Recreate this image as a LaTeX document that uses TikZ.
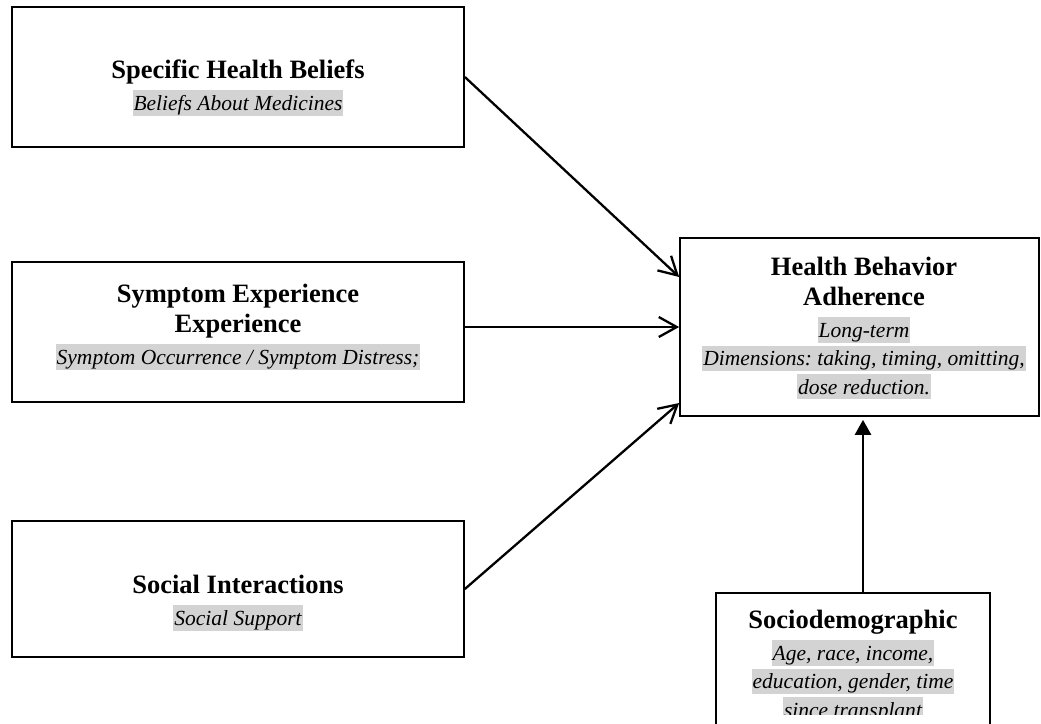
\documentclass[tikz,border=0pt]{standalone}
\usepackage{fontspec}
\setmainfont{Liberation Serif}
\usetikzlibrary{arrows.meta}
\definecolor{hlgray}{HTML}{D3D3D3}
\setlength{\fboxsep}{1pt}
\frenchspacing
\newcommand{\tightlines}{\lineskip=0pt\lineskiplimit=0pt}
\newcommand{\boxtitle}[1]{{\fontsize{26.5}{0}\selectfont\bfseries\rule[-11pt]{0pt}{30pt}#1}}
\newcommand{\subnote}[1]{{\fontsize{21.5}{0}\selectfont\itshape\rule[-7.5pt]{0pt}{28.5pt}\colorbox{hlgray}{\rule[-4pt]{0pt}{23pt}#1}}}
\begin{document}
\begin{tikzpicture}[
        x=1pt,
        y=-1pt,
        box/.style={draw=black, line width=1.7pt, rectangle, inner sep=0pt},
        txt/.style={anchor=north, align=center, inner sep=0pt,
            font={\fontsize{21.5}{0}\selectfont\tightlines}},
        link/.style={-{Straight Barb[length=18pt,width=20pt]}, line width=2.3pt}]
\useasboundingbox (0,0) rectangle (1041,723);
\clip (0,0) rectangle (1041,723);
% boxes
\node[box, minimum width=452pt, minimum height=140pt] (beliefs) at (238,77) {};
\node[box, minimum width=452pt, minimum height=140pt] (symptom) at (238,332) {};
\node[box, minimum width=452pt, minimum height=136pt] (social) at (238,589) {};
\node[box, minimum width=359pt, minimum height=178pt] (adherence) at (859.5,327) {};
\node[box, minimum width=274pt, minimum height=150pt] (socio) at (853,668) {};
% texts
\node[txt] (beliefstxt) at (238,59) {\boxtitle{Specific Health Beliefs}\\
    \subnote{Beliefs About Medicines}};
\node[txt] (symptomtxt) at (238,283) {\boxtitle{Symptom Experience}\\
    \boxtitle{Experience}\\
    \subnote{Symptom Occurrence / Symptom Distress;}};
\node[txt] (socialtxt) at (238,574) {\boxtitle{Social Interactions}\\
    \subnote{Social Support}};
\node[txt] (adherencetxt) at (864,256) {\boxtitle{Health Behavior}\\
    \boxtitle{Adherence}\\
    \subnote{Long-term}\\
    \subnote{Dimensions: taking, timing, omitting,}\\
    \subnote{dose reduction.}};
\begin{scope}
\clip (716,593) rectangle (990,714);
\node[txt] (sociotxt) at (853,609) {\boxtitle{Sociodemographic}\\
    \subnote{Age, race, income,}\\
    \subnote{education, gender, time}\\
    \subnote{since transplant}};
\end{scope}
% arrows
\draw[link] (beliefs.east) -- ([yshift=50pt]adherence.west);
\draw[link] (symptom.east |- adherence.west) -- (adherence.west);
\draw[link] (social.east) -- ([yshift=-76pt]adherence.west);
\draw[-{Triangle[length=15pt,width=16pt]}, line width=2.6pt] ([xshift=10pt]socio.north) -- ([xshift=10pt,yshift=-3pt]socio.north |- adherence.south);
\end{tikzpicture}
\end{document}
